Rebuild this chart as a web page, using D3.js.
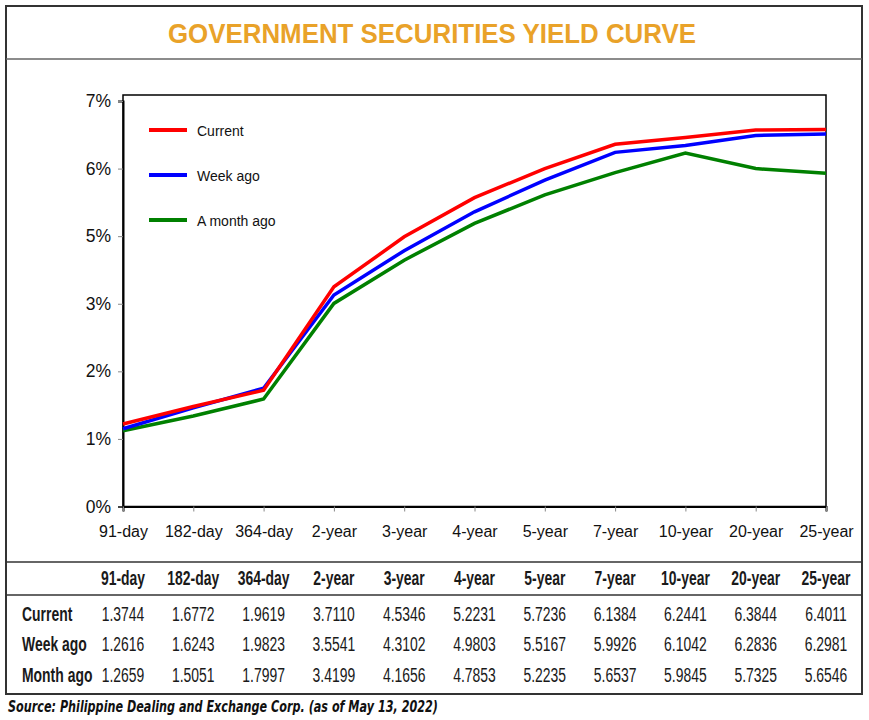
<!DOCTYPE html>
<html>
<head>
<meta charset="utf-8">
<script src="https://cdn.jsdelivr.net/npm/d3@7"></script>
<style>
  body { margin: 0; background: #fff; }
  svg { display: block; }
  .axis text { font-family: "Liberation Sans", Arial, sans-serif; fill: #111; }
  .axis .domain { stroke: #000; stroke-width: 2; }
  .axis .tick line { stroke: #888; }
</style>
</head>
<body>
<div id="chart"></div>
<script>
// categories on the x axis and in the table header
var tenors = ["91-day", "182-day", "364-day", "2-year", "3-year", "4-year", "5-year", "7-year", "10-year", "20-year", "25-year"];

// y axis tick labels as printed (note: no 4%)
var yTicks = [0, 1, 2, 3, 5, 6, 7];

// curves as plotted, read against the printed y ticks
var lineCurrent = [1.22, 1.48, 1.72, 3.50, 4.98, 5.57, 6.00, 6.36, 6.46, 6.57, 6.58];
var lineWeek    = [1.15, 1.46, 1.75, 3.26, 4.57, 5.36, 5.83, 6.24, 6.34, 6.49, 6.51];
var lineMonth   = [1.12, 1.34, 1.59, 3.01, 4.29, 5.19, 5.61, 5.94, 6.23, 6.00, 5.93];

var seriesNames = ["Current", "Week ago", "A month ago"];
var seriesColors = ["#ff0000", "#0000ff", "#008000"];

// table below the chart
var rowLabels = ["Current", "Week ago", "Month ago"];
var tableCurrent = ["1.3744", "1.6772", "1.9619", "3.7110", "4.5346", "5.2231", "5.7236", "6.1384", "6.2441", "6.3844", "6.4011"];
var tableWeek    = ["1.2616", "1.6243", "1.9823", "3.5541", "4.3102", "4.9803", "5.5167", "5.9926", "6.1042", "6.2836", "6.2981"];
var tableMonth   = ["1.2659", "1.5051", "1.7997", "3.4199", "4.1656", "4.7853", "5.2235", "5.6537", "5.9845", "5.7325", "5.6546"];

var W = 869, H = 720;
var plot = { left: 123, right: 826, top: 95, bottom: 506.5, firstTick: 101 };

var svg = d3.select("#chart").append("svg")
  .attr("width", W)
  .attr("height", H);

svg.append("rect").attr("width", W).attr("height", H).attr("fill", "#fff");

// outer frame + separators
svg.append("rect")
  .attr("x", 6).attr("y", 6)
  .attr("width", 856).attr("height", 688)
  .attr("fill", "none").attr("stroke", "#333").attr("stroke-width", 2);

svg.append("line")
  .attr("x1", 6).attr("x2", 862).attr("y1", 59).attr("y2", 59)
  .attr("stroke", "#666").attr("stroke-width", 1.5);

svg.append("text")
  .attr("x", 432).attr("y", 42.5)
  .attr("text-anchor", "middle")
  .attr("textLength", 528).attr("lengthAdjust", "spacingAndGlyphs")
  .style("font-family", "'Liberation Sans', Arial, sans-serif")
  .style("font-weight", "bold")
  .style("font-size", "27px")
  .style("fill", "#e9a229")
  .text("GOVERNMENT SECURITIES YIELD CURVE");

// scales
var x = d3.scalePoint()
  .domain(tenors)
  .range([plot.left, plot.right])
  .padding(0);

var y = d3.scaleLinear()
  .domain(yTicks)
  .range(yTicks.map(function(d, i) {
    return plot.bottom - i * (plot.bottom - plot.firstTick) / (yTicks.length - 1);
  }));

// plot box
svg.append("rect")
  .attr("x", plot.left).attr("y", plot.top)
  .attr("width", plot.right - plot.left).attr("height", plot.bottom - plot.top)
  .attr("fill", "none").attr("stroke", "#000").attr("stroke-width", 1.5);

var yAxis = d3.axisLeft(y)
  .tickValues(yTicks)
  .tickFormat(function(d) { return d + "%"; })
  .tickSizeOuter(0)
  .tickSize(5)
  .tickPadding(7);

svg.append("g")
  .attr("class", "axis y")
  .attr("transform", "translate(" + plot.left + ",0)")
  .call(yAxis)
  .selectAll("text")
  .style("font-size", "17.5px");

var xAxis = d3.axisBottom(x)
  .tickSizeOuter(0)
  .tickSize(5)
  .tickPadding(14);

svg.append("g")
  .attr("class", "axis x")
  .attr("transform", "translate(0," + plot.bottom + ")")
  .call(xAxis)
  .selectAll("text")
  .style("font-size", "16px");

// curves
var line = d3.line()
  .x(function(d, i) { return x(tenors[i]); })
  .y(function(d) { return y(d); });

var curves = [lineMonth, lineWeek, lineCurrent];
var curveColors = [seriesColors[2], seriesColors[1], seriesColors[0]];

svg.selectAll(".curve")
  .data(curves)
  .enter()
  .append("path")
  .attr("class", "curve")
  .attr("d", line)
  .attr("fill", "none")
  .attr("stroke", function(d, i) { return curveColors[i]; })
  .attr("stroke-width", 3.5)
  .attr("stroke-linejoin", "miter");

// legend
var legend = svg.selectAll(".legend")
  .data(seriesNames)
  .enter()
  .append("g")
  .attr("class", "legend")
  .attr("transform", function(d, i) { return "translate(149," + (130 + i * 45) + ")"; });

legend.append("line")
  .attr("x1", 0).attr("x2", 38)
  .attr("stroke", function(d, i) { return seriesColors[i]; })
  .attr("stroke-width", 4);

legend.append("text")
  .attr("x", 48).attr("dy", "0.4em")
  .attr("transform", "scale(1,1)")
  .style("font-family", "'Liberation Sans', Arial, sans-serif")
  .style("font-size", "14px")
  .style("fill", "#111")
  .text(function(d) { return d; });

// table
svg.append("line")
  .attr("x1", 6).attr("x2", 862).attr("y1", 562).attr("y2", 562)
  .attr("stroke", "#333").attr("stroke-width", 1.5);
svg.append("line")
  .attr("x1", 6).attr("x2", 862).attr("y1", 595).attr("y2", 595)
  .attr("stroke", "#333").attr("stroke-width", 1.5);

function cell(tx, ty, str, bold, anchor) {
  svg.append("text")
    .attr("transform", "translate(" + tx + "," + ty + ") scale(0.68,1)")
    .attr("text-anchor", anchor)
    .attr("dy", "0.36em")
    .style("font-family", "'Liberation Sans', Arial, sans-serif")
    .style("font-size", "20.5px")
    .style("font-weight", bold ? "bold" : "normal")
    .style("fill", "#1a1a1a")
    .text(str);
}

tenors.forEach(function(t) {
  cell(x(t), 578, t, true, "middle");
});

var tableRows = [tableCurrent, tableWeek, tableMonth];
var rowY = [614, 644, 675];

tableRows.forEach(function(row, r) {
  cell(22, rowY[r], rowLabels[r], true, "start");
  row.forEach(function(v, i) {
    cell(x(tenors[i]), rowY[r], v, false, "middle");
  });
});

svg.append("text")
  .attr("x", 8).attr("y", 712)
  .attr("textLength", 430).attr("lengthAdjust", "spacingAndGlyphs")
  .style("font-family", "'DejaVu Sans', Verdana, sans-serif")
  .style("font-weight", "bold")
  .style("font-style", "italic")
  .style("font-size", "15.5px")
  .style("fill", "#111")
  .text("Source: Philippine Dealing and Exchange Corp. (as of May 13, 2022)");
</script>
</body>
</html>
